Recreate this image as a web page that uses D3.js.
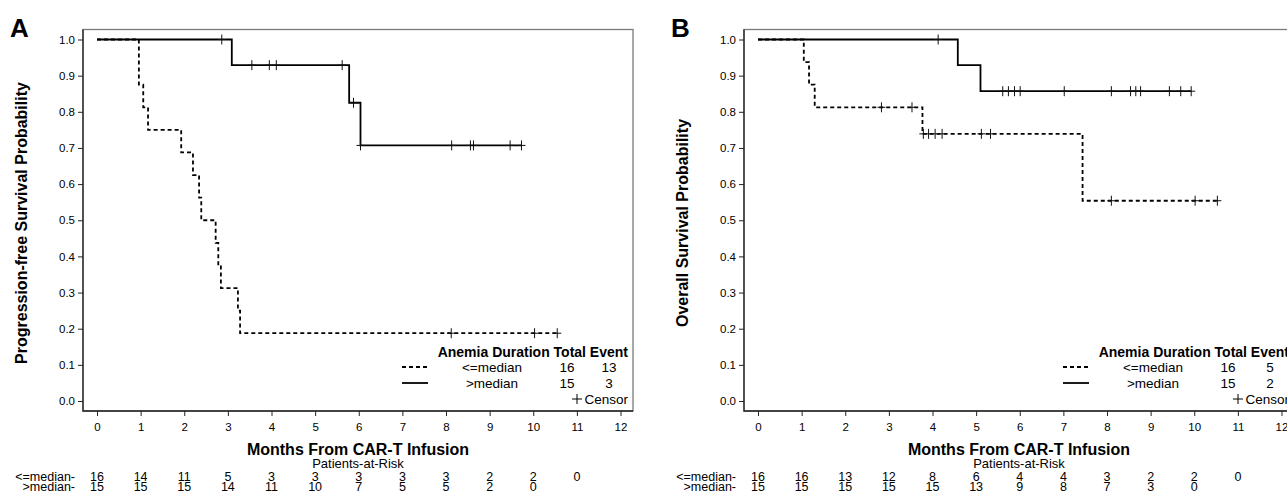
<!DOCTYPE html>
<html>
<head>
<meta charset="utf-8">
<script src="https://cdn.jsdelivr.net/npm/d3@7/dist/d3.min.js"></script>
<style>
  body { margin: 0; background: #fff; }
  svg text { font-family: "Liberation Sans", Arial, sans-serif; fill: #000; }
</style>
</head>
<body>
<div id="chart"></div>
<script>
/////////////////////////////////////////////////////////
///////////////////// The data //////////////////////////
/////////////////////////////////////////////////////////

const groups = ["<=median", ">median"];
const monthTicks = [0, 1, 2, 3, 4, 5, 6, 7, 8, 9, 10, 11, 12];
const probTicks = [0, 0.1, 0.2, 0.3, 0.4, 0.5, 0.6, 0.7, 0.8, 0.9, 1.0];

// Panel A - progression-free survival (drop times, survival after each drop, censor times)
const pfsLowTime = [0.96, 1.06, 1.17, 1.93, 2.20, 2.34, 2.39, 2.72, 2.78, 2.84, 3.23, 3.28];
const pfsLowSurv = [0.875, 0.8125, 0.75, 0.6875, 0.625, 0.5625, 0.5, 0.4375, 0.375, 0.3125, 0.25, 0.1875];
const pfsLowCensor = [8.12, 10.03, 10.55];
const pfsHighTime = [3.09, 5.78, 6.04];
const pfsHighSurv = [0.929, 0.825, 0.707];
const pfsHighCensor = [2.86, 3.55, 3.95, 4.11, 5.62, 5.88, 6.04, 8.13, 8.56, 8.63, 9.47, 9.73];
const pfsRiskLow = [16, 14, 11, 5, 3, 3, 3, 3, 3, 2, 2, 0];
const pfsRiskHigh = [15, 15, 15, 14, 11, 10, 7, 5, 5, 2, 0];
const pfsTotals = [16, 15];
const pfsEvents = [13, 3];

// Panel B - overall survival
const osLowTime = [1.05, 1.17, 1.30, 3.77, 7.44];
const osLowSurv = [0.9375, 0.875, 0.8125, 0.739, 0.554];
const osLowCensor = [2.83, 3.53, 3.79, 3.91, 4.06, 4.22, 5.12, 5.33, 8.10, 10.02, 10.53];
const osHighTime = [4.58, 5.10];
const osHighSurv = [0.929, 0.857];
const osHighCensor = [4.13, 5.61, 5.74, 5.88, 6.01, 7.02, 8.10, 8.54, 8.66, 8.77, 9.43, 9.69, 9.93];
const osRiskLow = [16, 16, 13, 12, 8, 6, 4, 4, 3, 2, 2, 0];
const osRiskHigh = [15, 15, 15, 15, 15, 13, 9, 8, 7, 3, 0];
const osTotals = [16, 15];
const osEvents = [5, 2];

/////////////////////////////////////////////////////////
//////////////////// Set up the page ////////////////////
/////////////////////////////////////////////////////////

const width = 1287, height = 495;

const svg = d3.select("#chart").append("svg")
	.attr("width", width)
	.attr("height", height);

const config = {
	frameLeft: 83, frameRight: 633,  //plot frame
	frameTop: 29.5, axisY: 411,
	dashes: "4,3",
	lineWidth: 1.8
};

//Scales are shared: panel B is the same layout moved to the right
const x = d3.scaleLinear().domain([0, 12]).range([97, 620.5]);
const y = d3.scaleLinear().domain([0, 1]).range([401, 39.5]);

const censorPath = "M-4,0H4M0,-5V5";

function drawPanel(opts) {
	let g = svg.append("g").attr("transform", `translate(${opts.dx},0)`);

	//Panel letter
	g.append("text")
		.attr("x", 10).attr("y", 37)
		.style("font-size", "26px").style("font-weight", "bold")
		.text(opts.letter);

	//Y axis title
	g.append("text")
		.attr("transform", "translate(27,223) rotate(-90)")
		.attr("text-anchor", "middle")
		.style("font-size", "16px").style("font-weight", "bold")
		.text(opts.yTitle);

	//Frame
	g.append("rect")
		.attr("x", config.frameLeft).attr("y", config.frameTop)
		.attr("width", config.frameRight - config.frameLeft)
		.attr("height", config.axisY - config.frameTop)
		.style("fill", "none").style("stroke", "#7a7a7a").style("stroke-width", 1.3);
	g.append("path")
		.attr("d", `M${config.frameLeft},${config.frameTop}V${config.axisY}H${config.frameRight}`)
		.style("fill", "none").style("stroke", "#222").style("stroke-width", 1.3);

	//Axes
	let xAxis = g.append("g")
		.attr("transform", `translate(0,${config.axisY})`)
		.call(d3.axisBottom(x).tickValues(monthTicks).tickSize(5).tickSizeOuter(0).tickPadding(7));
	let yAxis = g.append("g")
		.attr("transform", `translate(${config.frameLeft},0)`)
		.call(d3.axisLeft(y).tickValues(probTicks).tickFormat(d3.format(".1f")).tickSize(5).tickSizeOuter(0).tickPadding(3));
	[xAxis, yAxis].forEach(a => {
		a.select(".domain").remove();
		a.selectAll("line").style("stroke", "#222");
		a.selectAll("text").style("font-size", "11.5px").style("font-family", "'Liberation Sans', Arial, sans-serif").attr("fill", "#111");
	});

	//X axis title and risk table
	g.append("text")
		.attr("x", (config.frameLeft + config.frameRight) / 2).attr("y", 455)
		.attr("text-anchor", "middle")
		.style("font-size", "16px").style("font-weight", "bold")
		.text("Months From CAR-T Infusion");
	g.append("text")
		.attr("x", (config.frameLeft + config.frameRight) / 2).attr("y", 468)
		.attr("text-anchor", "middle")
		.style("font-size", "13px")
		.text("Patients-at-Risk");

	[opts.riskLow, opts.riskHigh].forEach((row, k) => {
		let rowY = 480.5 + k * 10.5;
		g.append("text")
			.attr("x", 75).attr("y", rowY)
			.attr("text-anchor", "end")
			.style("font-size", "12.5px")
			.text(groups[k] + "-");
		g.selectAll(".risk" + k)
			.data(row)
			.enter().append("text")
			.attr("class", "risk" + k)
			.attr("x", (d, i) => x(monthTicks[i]))
			.attr("y", rowY)
			.attr("text-anchor", "middle")
			.style("font-size", "12.5px")
			.text(d => d);
	});

	//Survival curves: dashed group first so the solid line sits on top
	let line = d3.line()
		.x(d => x(d[0]))
		.y(d => y(d[1]))
		.curve(d3.curveStepAfter);

	opts.curves.forEach(c => {
		let end = d3.max(c.censor);
		let pts = [[0, 1]].concat(c.time.map((t, i) => [t, c.surv[i]]));
		pts.push([Math.max(end, pts[pts.length - 1][0]), c.surv[c.surv.length - 1]]);

		g.append("path")
			.attr("d", line(pts))
			.style("fill", "none")
			.style("stroke", "#000")
			.style("stroke-width", config.lineWidth)
			.style("stroke-dasharray", c.dashed ? config.dashes : null);

		//survival at a censor time = the last step at or before it
		let bis = d3.bisector(d => d[0]).right;
		g.selectAll(null)
			.data(c.censor)
			.enter().append("path")
			.attr("d", censorPath)
			.attr("transform", t => `translate(${x(t)},${y(pts[bis(pts, t) - 1][1])})`)
			.style("fill", "none").style("stroke", "#111").style("stroke-width", 1);
	});

	//Legend
	let lx = 628;
	g.append("text")
		.attr("x", lx).attr("y", 357)
		.attr("text-anchor", "end")
		.style("font-size", "14px").style("font-weight", "bold")
		.text("Anemia Duration Total Event");
	groups.forEach((name, k) => {
		let ly = 371.5 + k * 16;
		g.append("line")
			.attr("x1", 402).attr("x2", 428)
			.attr("y1", ly - 4.5).attr("y2", ly - 4.5)
			.style("stroke", "#000").style("stroke-width", config.lineWidth)
			.style("stroke-dasharray", k === 0 ? config.dashes : null);
		g.append("text").attr("x", 492).attr("y", ly).attr("text-anchor", "middle")
			.style("font-size", "13.5px").text(name);
		g.append("text").attr("x", 567).attr("y", ly).attr("text-anchor", "middle")
			.style("font-size", "13.5px").text(opts.totals[k]);
		g.append("text").attr("x", 609).attr("y", ly).attr("text-anchor", "middle")
			.style("font-size", "13.5px").text(opts.events[k]);
	});
	g.append("path")
		.attr("d", "M-5,0H5M0,-5V5")
		.attr("transform", "translate(577,399)")
		.style("stroke", "#000").style("stroke-width", 1);
	g.append("text")
		.attr("x", lx).attr("y", 404)
		.attr("text-anchor", "end")
		.style("font-size", "13.5px")
		.text("Censor");
}

drawPanel({
	dx: 0, letter: "A", yTitle: "Progression-free Survival Probability",
	curves: [
		{ time: pfsLowTime, surv: pfsLowSurv, censor: pfsLowCensor, dashed: true },
		{ time: pfsHighTime, surv: pfsHighSurv, censor: pfsHighCensor, dashed: false }
	],
	riskLow: pfsRiskLow, riskHigh: pfsRiskHigh,
	totals: pfsTotals, events: pfsEvents
});

drawPanel({
	dx: 661, letter: "B", yTitle: "Overall Survival Probability",
	curves: [
		{ time: osLowTime, surv: osLowSurv, censor: osLowCensor, dashed: true },
		{ time: osHighTime, surv: osHighSurv, censor: osHighCensor, dashed: false }
	],
	riskLow: osRiskLow, riskHigh: osRiskHigh,
	totals: osTotals, events: osEvents
});
</script>
</body>
</html>
